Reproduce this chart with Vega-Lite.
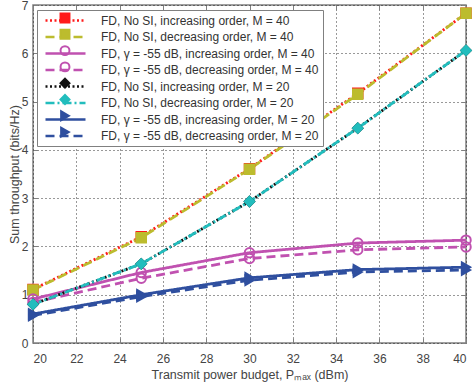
{
  "$schema": "https://vega.github.io/schema/vega-lite/v6.json",
  "width": 433,
  "height": 338,
  "autosize": {"type": "none"},
  "padding": {"left": 33, "top": 5, "right": 10, "bottom": 47},
  "background": "white",
  "config": {
    "view": {"stroke": "#808080", "strokeWidth": 1.5},
    "font": "Liberation Sans",
    "axis": {
      "grid": true,
      "gridColor": "#000000",
      "gridDash": [1, 3],
      "gridOpacity": 0.8,
      "gridWidth": 1,
      "domain": false,
      "tickColor": "#808080",
      "tickSize": -5,
      "labelColor": "#444444",
      "labelFont": "Liberation Sans",
      "labelFontSize": 12,
      "titleFont": "Liberation Sans",
      "titleFontSize": 12.5,
      "titleFontWeight": "normal",
      "titleColor": "#444444"
    }
  },
  "data": {
    "values": [
      {"s": "FD, No SI, increasing order, M = 40", "x": 20, "y": 1.11},
      {"s": "FD, No SI, increasing order, M = 40", "x": 25, "y": 2.2},
      {"s": "FD, No SI, increasing order, M = 40", "x": 30, "y": 3.61},
      {"s": "FD, No SI, increasing order, M = 40", "x": 35, "y": 5.17},
      {"s": "FD, No SI, increasing order, M = 40", "x": 40, "y": 6.83},
      {"s": "FD, No SI, decreasing order, M = 40", "x": 20, "y": 1.1},
      {"s": "FD, No SI, decreasing order, M = 40", "x": 25, "y": 2.18},
      {"s": "FD, No SI, decreasing order, M = 40", "x": 30, "y": 3.6},
      {"s": "FD, No SI, decreasing order, M = 40", "x": 35, "y": 5.15},
      {"s": "FD, No SI, decreasing order, M = 40", "x": 40, "y": 6.83},
      {"s": "FD, γ = -55 dB, increasing order, M = 40", "x": 20, "y": 0.91},
      {"s": "FD, γ = -55 dB, increasing order, M = 40", "x": 25, "y": 1.46},
      {"s": "FD, γ = -55 dB, increasing order, M = 40", "x": 30, "y": 1.87},
      {"s": "FD, γ = -55 dB, increasing order, M = 40", "x": 35, "y": 2.07},
      {"s": "FD, γ = -55 dB, increasing order, M = 40", "x": 40, "y": 2.13},
      {"s": "FD, γ = -55 dB, decreasing order, M = 40", "x": 20, "y": 0.84},
      {"s": "FD, γ = -55 dB, decreasing order, M = 40", "x": 25, "y": 1.34},
      {"s": "FD, γ = -55 dB, decreasing order, M = 40", "x": 30, "y": 1.75},
      {"s": "FD, γ = -55 dB, decreasing order, M = 40", "x": 35, "y": 1.93},
      {"s": "FD, γ = -55 dB, decreasing order, M = 40", "x": 40, "y": 1.99},
      {"s": "FD, No SI, increasing order, M = 20", "x": 20, "y": 0.8},
      {"s": "FD, No SI, increasing order, M = 20", "x": 25, "y": 1.64},
      {"s": "FD, No SI, increasing order, M = 20", "x": 30, "y": 2.93},
      {"s": "FD, No SI, increasing order, M = 20", "x": 35, "y": 4.45},
      {"s": "FD, No SI, increasing order, M = 20", "x": 40, "y": 6.06},
      {"s": "FD, No SI, decreasing order, M = 20", "x": 20, "y": 0.8},
      {"s": "FD, No SI, decreasing order, M = 20", "x": 25, "y": 1.64},
      {"s": "FD, No SI, decreasing order, M = 20", "x": 30, "y": 2.93},
      {"s": "FD, No SI, decreasing order, M = 20", "x": 35, "y": 4.45},
      {"s": "FD, No SI, decreasing order, M = 20", "x": 40, "y": 6.06},
      {"s": "FD, γ = -55 dB, increasing order, M = 20", "x": 20, "y": 0.6},
      {"s": "FD, γ = -55 dB, increasing order, M = 20", "x": 25, "y": 1.0},
      {"s": "FD, γ = -55 dB, increasing order, M = 20", "x": 30, "y": 1.35},
      {"s": "FD, γ = -55 dB, increasing order, M = 20", "x": 35, "y": 1.52},
      {"s": "FD, γ = -55 dB, increasing order, M = 20", "x": 40, "y": 1.57},
      {"s": "FD, γ = -55 dB, decreasing order, M = 20", "x": 20, "y": 0.57},
      {"s": "FD, γ = -55 dB, decreasing order, M = 20", "x": 25, "y": 0.96},
      {"s": "FD, γ = -55 dB, decreasing order, M = 20", "x": 30, "y": 1.3},
      {"s": "FD, γ = -55 dB, decreasing order, M = 20", "x": 35, "y": 1.47},
      {"s": "FD, γ = -55 dB, decreasing order, M = 20", "x": 40, "y": 1.51}
    ]
  },
  "resolve": {
    "legend": {"color": "independent", "strokeDash": "independent", "shape": "independent", "fill": "independent", "stroke": "independent"},
    "axis": {"x": "independent", "y": "independent"}
  },
  "layer": [
    {
      "mark": {"type": "line", "strokeWidth": 2.8, "clip": true},
      "encoding": {
        "x": {
          "field": "x", "type": "quantitative",
          "scale": {"domain": [20, 40], "nice": false, "zero": false},
          "axis": {"values": [20, 22, 24, 26, 28, 30, 32, 34, 36, 38, 40], "title": "Transmit power budget, Pₘₐₓ (dBm)", "labelPadding": 15, "titlePadding": 4}
        },
        "y": {
          "field": "y", "type": "quantitative",
          "scale": {"domain": [0, 7], "nice": false},
          "axis": {"values": [0, 1, 2, 3, 4, 5, 6, 7], "title": "Sum throughput (bits/Hz)", "labelPadding": 10, "titlePadding": 0}
        },
        "color": {
          "field": "s", "type": "nominal", "title": null,
          "scale": {
            "domain": ["FD, No SI, increasing order, M = 40", "FD, No SI, decreasing order, M = 40", "FD, γ = -55 dB, increasing order, M = 40", "FD, γ = -55 dB, decreasing order, M = 40", "FD, No SI, increasing order, M = 20", "FD, No SI, decreasing order, M = 20", "FD, γ = -55 dB, increasing order, M = 20", "FD, γ = -55 dB, decreasing order, M = 20"],
            "range": ["#ff1a1a", "#bcbc2e", "#c051b0", "#c051b0", "#111111", "#22bdbd", "#2f4f9f", "#2f4f9f"]
          },
          "legend": {
            "orient": "none",
            "legendX": 4,
            "legendY": 5,
            "fillColor": "white",
            "strokeColor": "#808080",
            "padding": 4,
            "symbolType": "M-4,0H4",
            "symbolSize": 100,
            "symbolStrokeWidth": 2.6,
            "symbolOffset": 18,
            "labelFontSize": 12,
            "labelColor": "#333333",
            "labelFont": "Liberation Sans",
            "labelLimit": 400,
            "rowPadding": 3.5,
            "labelOffset": 29
          }
        },
        "strokeDash": {
          "field": "s", "type": "nominal", "title": null,
          "scale": {
            "domain": ["FD, No SI, increasing order, M = 40", "FD, No SI, decreasing order, M = 40", "FD, γ = -55 dB, increasing order, M = 40", "FD, γ = -55 dB, decreasing order, M = 40", "FD, No SI, increasing order, M = 20", "FD, No SI, decreasing order, M = 20", "FD, γ = -55 dB, increasing order, M = 20", "FD, γ = -55 dB, decreasing order, M = 20"],
            "range": [[2, 2.5], [9, 5], [1, 0], [9, 5], [2, 2.5], [9, 3, 2, 3], [1, 0], [9, 5]]
          }
        },
        "order": {"field": "x"}
      }
    },
    {
      "mark": {"type": "point", "size": 90, "strokeWidth": 2, "opacity": 1, "clip": false},
      "encoding": {
        "x": {
          "field": "x", "type": "quantitative",
          "axis": {"orient": "top", "values": [20, 22, 24, 26, 28, 30, 32, 34, 36, 38, 40], "labels": false, "grid": false, "title": null}
        },
        "y": {
          "field": "y", "type": "quantitative",
          "axis": {"orient": "right", "values": [0, 1, 2, 3, 4, 5, 6, 7], "labels": false, "grid": false, "title": null}
        },
        "shape": {
          "field": "s", "type": "nominal", "title": null,
          "scale": {
            "domain": ["FD, No SI, increasing order, M = 40", "FD, No SI, decreasing order, M = 40", "FD, γ = -55 dB, increasing order, M = 40", "FD, γ = -55 dB, decreasing order, M = 40", "FD, No SI, increasing order, M = 20", "FD, No SI, decreasing order, M = 20", "FD, γ = -55 dB, increasing order, M = 20", "FD, γ = -55 dB, decreasing order, M = 20"],
            "range": ["square", "square", "circle", "circle", "diamond", "diamond", "triangle-right", "triangle-right"]
          },
          "legend": {
            "orient": "none",
            "legendX": 4,
            "legendY": 3,
            "padding": 4,
            "symbolSize": 80,
            "symbolStrokeWidth": 2,
            "symbolOffset": 18,
            "labelFontSize": 12,
            "labelExpr": "''",
            "labelLimit": 400,
            "rowPadding": -1.7,
            "labelOffset": 29
          }
        },
        "stroke": {
          "field": "s", "type": "nominal", "title": null,
          "scale": {
            "domain": ["FD, No SI, increasing order, M = 40", "FD, No SI, decreasing order, M = 40", "FD, γ = -55 dB, increasing order, M = 40", "FD, γ = -55 dB, decreasing order, M = 40", "FD, No SI, increasing order, M = 20", "FD, No SI, decreasing order, M = 20", "FD, γ = -55 dB, increasing order, M = 20", "FD, γ = -55 dB, decreasing order, M = 20"],
            "range": ["#ff1a1a", "#bcbc2e", "#c051b0", "#c051b0", "#111111", "#22bdbd", "#2f4f9f", "#2f4f9f"]
          }
        },
        "fill": {
          "field": "s", "type": "nominal", "title": null,
          "scale": {
            "domain": ["FD, No SI, increasing order, M = 40", "FD, No SI, decreasing order, M = 40", "FD, γ = -55 dB, increasing order, M = 40", "FD, γ = -55 dB, decreasing order, M = 40", "FD, No SI, increasing order, M = 20", "FD, No SI, decreasing order, M = 20", "FD, γ = -55 dB, increasing order, M = 20", "FD, γ = -55 dB, decreasing order, M = 20"],
            "range": ["#ff1a1a", "#bcbc2e", "transparent", "transparent", "#111111", "#22bdbd", "#2f4f9f", "#2f4f9f"]
          }
        }
      }
    }
  ]
}
